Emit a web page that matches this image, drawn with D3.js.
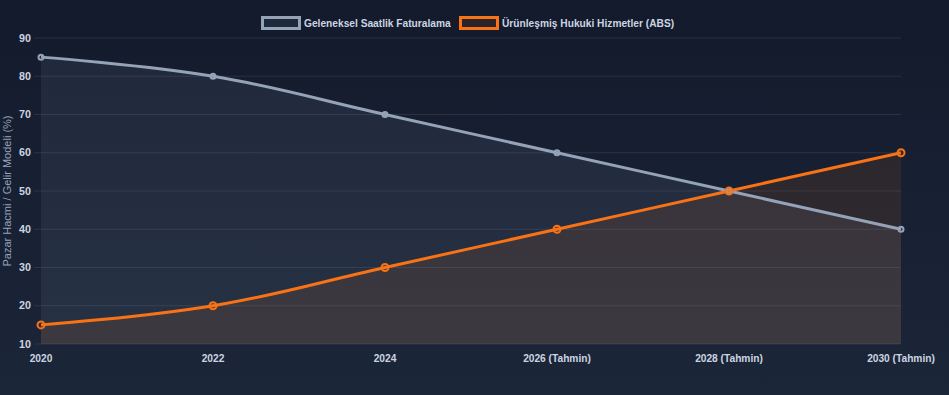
<!DOCTYPE html>
<html><head><meta charset="utf-8">
<script src="https://cdn.jsdelivr.net/npm/d3@7"></script>
<style>
html,body{margin:0;padding:0;}
body{width:949px;height:395px;overflow:hidden;background:linear-gradient(180deg,#131a2c 0%,#1c2639 100%);}
svg{display:block;}
text{font-family:"Liberation Sans",Arial,Helvetica,sans-serif;}
</style></head><body>
<svg id="c" width="949" height="395"></svg>
<script>
const categories = ["2020","2022","2024","2026 (Tahmin)","2028 (Tahmin)","2030 (Tahmin)"];
const seriesNames = ["Geleneksel Saatlik Faturalama","Ürünleşmiş Hukuki Hizmetler (ABS)"];
const traditional = [85,80,70,60,50,40];
const abs = [15,20,30,40,50,60];
const yTicks = [10,20,30,40,50,60,70,80,90];
const yTitle = "Pazar Hacmi / Gelir Modeli (%)";

const svg = d3.select("#c");
const L = 41, R = 901, T = 38, B = 344;
const FS = 10.2;
const x = d3.scalePoint().domain(categories).range([L, R]);
const y = d3.scaleLinear().domain([10, 90]).range([B, T]);

// grid
const g = svg.append("g");
g.selectAll("line.grid").data(yTicks).enter().append("line")
  .attr("x1", L - 7).attr("x2", R).attr("y1", d => y(d)).attr("y2", d => y(d))
  .attr("stroke", "rgba(255,255,255,0.09)").attr("stroke-width", 1);

const curve = d3.curveCardinal.tension(-0.2);
const series = [
  {name: seriesNames[0], data: traditional, color: "#94a3b8", fill: "rgba(148,163,184,0.1)", r: 2.5},
  {name: seriesNames[1], data: abs, color: "#f97316", fill: "rgba(249,115,22,0.1)", r: 3.5}
];

series.forEach(s => {
  const pts = s.data.map((v, i) => [x(categories[i]), y(v)]);
  const area = d3.area().x(d => d[0]).y0(B).y1(d => d[1]).curve(curve);
  svg.append("path").attr("d", area(pts)).attr("fill", s.fill);
});
series.forEach(s => {
  const pts = s.data.map((v, i) => [x(categories[i]), y(v)]);
  const line = d3.line().x(d => d[0]).y(d => d[1]).curve(curve);
  svg.append("path").attr("d", line(pts)).attr("fill", "none").attr("stroke", s.color).attr("stroke-width", 3);
});
series.forEach(s => {
  svg.append("g").selectAll("circle").data(s.data).enter().append("circle")
    .attr("cx", (d, i) => x(categories[i])).attr("cy", d => y(d)).attr("r", s.r)
    .attr("fill", s.fill).attr("stroke", s.color).attr("stroke-width", 2);
});

// y axis labels
svg.append("g").selectAll("text").data(yTicks).enter().append("text")
  .attr("x", 31).attr("y", d => y(d)).attr("dy", "0.35em").attr("text-anchor", "end")
  .attr("fill", "#cbd5e1").attr("font-size", FS + 0.5).attr("font-weight", "bold").text(d => d);

// x axis labels
svg.append("g").selectAll("text").data(categories).enter().append("text")
  .attr("x", d => x(d)).attr("y", 362).attr("text-anchor", "middle")
  .attr("fill", "#cbd5e1").attr("font-size", FS).attr("font-weight", "bold").text(d => d);

// y title
svg.append("text").attr("transform", `translate(11,${(T + B) / 2}) rotate(-90)`)
  .attr("text-anchor", "middle").attr("fill", "#94a3b8").attr("font-size", 11).text(yTitle);

// legend
const leg = svg.append("g");
const items = [{x: 261, s: series[0]}, {x: 459, s: series[1]}];
items.forEach(it => {
  leg.append("rect").attr("x", it.x + 1.5).attr("y", 17.5).attr("width", 37).attr("height", 11)
    .attr("fill", it.s.fill).attr("stroke", it.s.color).attr("stroke-width", 3);
  leg.append("text").attr("x", it.x + 43).attr("y", 23).attr("dy", "0.35em")
    .attr("fill", "#cbd5e1").attr("font-size", FS).attr("font-weight", "bold").text(it.s.name);
});
</script>
</body></html>
